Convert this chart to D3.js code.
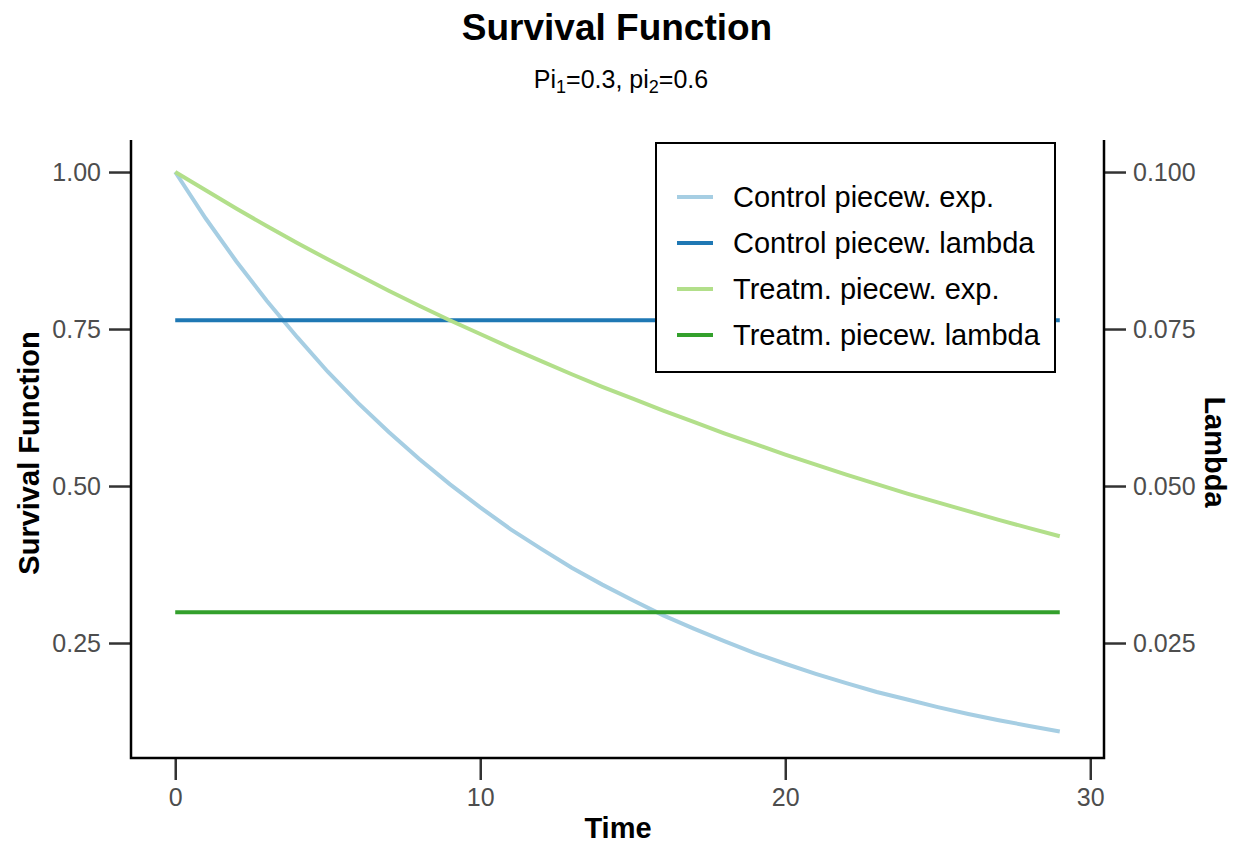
<!DOCTYPE html>
<html>
<head>
<meta charset="utf-8">
<script src="https://cdn.jsdelivr.net/npm/d3@7"></script>
<style>
  body { margin: 0; background: #fff; }
  svg text { font-family: "Liberation Sans", Arial, sans-serif; }
</style>
</head>
<body>
<div id="chart"></div>
<script>
// DATA
var time = [0, 1, 2, 3, 4, 5, 6, 7, 8, 9, 10, 11, 12, 13, 14, 15, 16, 17, 18, 19, 20, 21, 22, 23, 24, 25, 26, 27, 28, 29];
var controlSurv = [1.000, 0.926, 0.858, 0.795, 0.737, 0.682, 0.632, 0.586, 0.543, 0.503, 0.466, 0.431, 0.400, 0.370, 0.343, 0.318, 0.294, 0.273, 0.253, 0.234, 0.217, 0.201, 0.186, 0.172, 0.160, 0.148, 0.137, 0.127, 0.118, 0.109];
var treatSurv = [1.000, 0.971, 0.942, 0.914, 0.887, 0.861, 0.836, 0.811, 0.787, 0.764, 0.742, 0.720, 0.699, 0.678, 0.658, 0.639, 0.620, 0.602, 0.584, 0.567, 0.550, 0.534, 0.518, 0.503, 0.488, 0.474, 0.460, 0.446, 0.433, 0.420];
// PIECEWISE LAMBDA (ONE PIECE EACH)
var lambdaTimes = [0, 29];
var controlLambda = [0.0764, 0.0764];
var treatLambda = [0.0299, 0.0299];

var seriesNames = ['Control piecew. exp.', 'Control piecew. lambda', 'Treatm. piecew. exp.', 'Treatm. piecew. lambda'];
var seriesColors = ['#A6CEE3', '#1F78B4', '#B2DF8A', '#33A02C'];

var leftTicks = [0.25, 0.50, 0.75, 1.00];
var rightTicks = [0.025, 0.050, 0.075, 0.100];
var xTicks = [0, 10, 20, 30];

// SETTINGS
var width = 1238, height = 844;
var plot = { left: 131, right: 1104, top: 140, bottom: 758 };

var svg = d3.select('#chart').append('svg')
   .attr('width', width)
   .attr('height', height);

// SCALES
var x = d3.scaleLinear().domain([-1.45, 30.45]).range([plot.left, plot.right]);
var yL = d3.scaleLinear().domain([0.0669, 1.051]).range([plot.bottom, plot.top]);
var yR = d3.scaleLinear().domain([0.00669, 0.1051]).range([plot.bottom, plot.top]);

// TITLES
svg.append('text')
   .attr('x', 617).attr('y', 40)
   .attr('text-anchor', 'middle')
   .style('font-size', '37px').style('font-weight', 'bold')
   .text('Survival Function');

var sub = svg.append('text')
   .attr('x', 621).attr('y', 88)
   .attr('text-anchor', 'middle')
   .style('font-size', '25px');
sub.append('tspan').text('Pi');
sub.append('tspan').attr('dy', 5).style('font-size', '18px').text('1');
sub.append('tspan').attr('dy', -5).text('=0.3, pi');
sub.append('tspan').attr('dy', 5).style('font-size', '18px').text('2');
sub.append('tspan').attr('dy', -5).text('=0.6');

// AXES
function styleAxis(g) {
   g.select('.domain').remove();
   g.selectAll('.tick line').attr('stroke', '#333').attr('stroke-width', 2.5);
   g.selectAll('.tick text').attr('fill', '#4d4d4d').style('font-size', '25px')
      .style('font-family', '"Liberation Sans", Arial, sans-serif');
}

svg.append('g')
   .attr('transform', 'translate(' + plot.left + ',0)')
   .call(d3.axisLeft(yL).tickValues(leftTicks).tickFormat(d3.format('.2f')).tickSize(22).tickPadding(8))
   .call(styleAxis);

svg.append('g')
   .attr('transform', 'translate(' + plot.right + ',0)')
   .call(d3.axisRight(yR).tickValues(rightTicks).tickFormat(d3.format('.3f')).tickSize(22).tickPadding(7))
   .call(styleAxis);

svg.append('g')
   .attr('transform', 'translate(0,' + plot.bottom + ')')
   .call(d3.axisBottom(x).tickValues(xTicks).tickFormat(d3.format('d')).tickSize(22).tickPadding(8))
   .call(styleAxis);

// AXIS LINES (LEFT, BOTTOM, RIGHT)
svg.append('path')
   .attr('d', 'M' + plot.left + ',' + plot.top + 'V' + plot.bottom + 'H' + plot.right + 'V' + plot.top)
   .attr('fill', 'none')
   .attr('stroke', '#000')
   .attr('stroke-width', 2.5);

// AXIS TITLES
svg.append('text')
   .attr('transform', 'translate(39,' + ((plot.top + plot.bottom) / 2 + 4) + ') rotate(-90)')
   .attr('text-anchor', 'middle')
   .style('font-size', '29px').style('font-weight', 'bold')
   .text('Survival Function');

svg.append('text')
   .attr('transform', 'translate(1205,' + ((plot.top + plot.bottom) / 2 + 3) + ') rotate(90)')
   .attr('text-anchor', 'middle')
   .style('font-size', '29px').style('font-weight', 'bold')
   .text('Lambda');

svg.append('text')
   .attr('x', (plot.left + plot.right) / 2 + 0.5).attr('y', 838)
   .attr('text-anchor', 'middle')
   .style('font-size', '29px').style('font-weight', 'bold')
   .text('Time');

// LINES
var survLine = d3.line()
   .x((d, i) => x(time[i]))
   .y((d) => yL(d));

var lambdaLine = d3.line()
   .x((d, i) => x(lambdaTimes[i]))
   .y((d) => yR(d));

var lines = [
   { d: survLine(controlSurv), c: seriesColors[0] },
   { d: lambdaLine(controlLambda), c: seriesColors[1] },
   { d: survLine(treatSurv), c: seriesColors[2] },
   { d: lambdaLine(treatLambda), c: seriesColors[3] }
];

svg.selectAll('path.series').data(lines).enter()
   .append('path')
   .attr('class', 'series')
   .attr('d', (d) => d.d)
   .attr('fill', 'none')
   .attr('stroke', (d) => d.c)
   .attr('stroke-width', 4);

// LEGEND
var legend = svg.append('g').attr('transform', 'translate(656,143)');
legend.append('rect')
   .attr('width', 399).attr('height', 229)
   .attr('fill', '#fff')
   .attr('stroke', '#000')
   .attr('stroke-width', 2);

var items = legend.selectAll('g.item').data(seriesNames).enter()
   .append('g')
   .attr('class', 'item')
   .attr('transform', (d, i) => 'translate(0,' + (54 + i * 46) + ')');

items.append('line')
   .attr('x1', 21).attr('x2', 57)
   .attr('stroke', (d, i) => seriesColors[i])
   .attr('stroke-width', 4);

items.append('text')
   .attr('x', 77).attr('y', 10)
   .style('font-size', '29px')
   .attr('fill', '#000')
   .text((d) => d);
</script>
</body>
</html>
